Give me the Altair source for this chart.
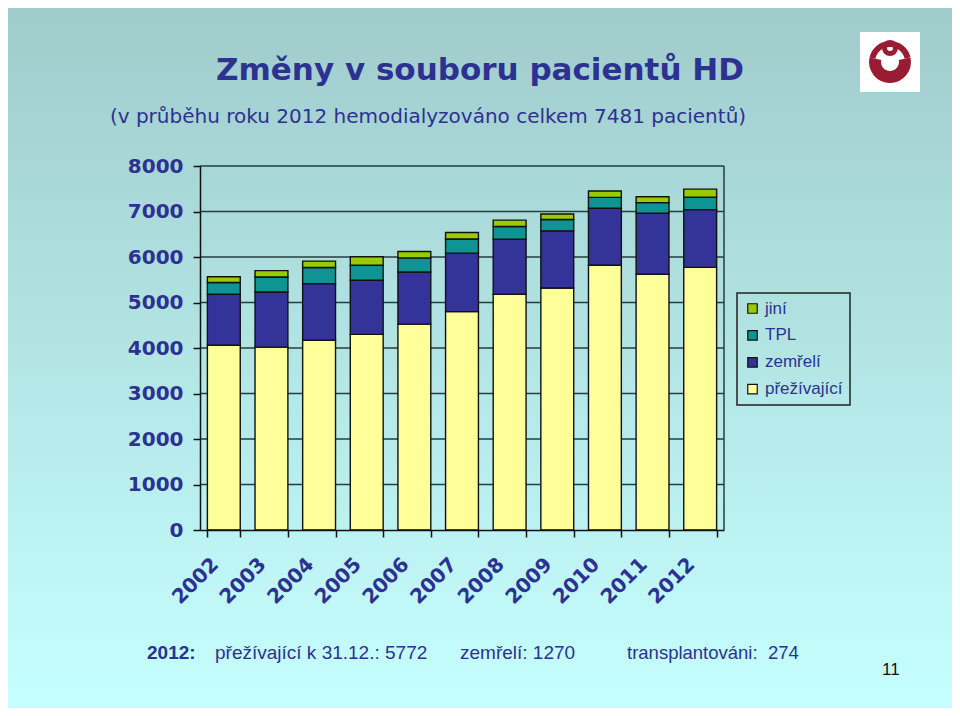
import altair as alt
import pandas as pd

# ---------------- data ----------------
years = ["2002", "2003", "2004", "2005", "2006", "2007", "2008", "2009", "2010", "2011", "2012"]
prezivajici = [4060, 4020, 4170, 4300, 4525, 4800, 5180, 5320, 5820, 5620, 5772]
zemreli = [1120, 1210, 1245, 1190, 1145, 1285, 1210, 1255, 1250, 1345, 1270]
tpl = [260, 330, 355, 330, 310, 310, 280, 250, 240, 230, 274]
jini = [125, 140, 140, 185, 140, 145, 140, 120, 140, 130, 175]

series_bottom_up = ["přežívající", "zemřelí", "TPL", "jiní"]
legend_order = ["jiní", "TPL", "zemřelí", "přežívající"]
legend_colors = ["#99cc00", "#0f9494", "#333399", "#ffff99"]
y_ticks = [0, 1000, 2000, 3000, 4000, 5000, 6000, 7000, 8000]
grid_values = [1000, 2000, 3000, 4000, 5000, 6000, 7000, 8000]

title_text = ["Změny v souboru pacientů HD"]
subtitle_text = ["(v průběhu roku 2012 hemodialyzováno celkem 7481 pacientů)"]
footer_label = ["2012:"]
footer_items = ["přežívající k 31.12.: 5772", "zemřelí: 1270", "transplantováni:\u00a0 274"]
page_number = ["11"]

# ---------------- tables ----------------
values_by_series = {
    "přežívající": prezivajici,
    "zemřelí": zemreli,
    "TPL": tpl,
    "jiní": jini,
}
rows = []
for order, s in enumerate(series_bottom_up):
    for y, v in zip(years, values_by_series[s]):
        rows.append({"year": y, "series": s, "value": v, "order": order})
df = pd.DataFrame(rows)
grid_df = pd.DataFrame({"value": grid_values})
one = pd.DataFrame({"k": [0]})

TXT = "#2d3192"

yscale = alt.Scale(domain=[0, 8000], nice=False)
yaxis = alt.Axis(
    title=None, values=y_ticks, format="d", labelFont="DejaVu Sans",
    labelFontWeight="bold", labelFontSize=20, labelColor=TXT,
    labelPadding=10, tickSize=7, tickWidth=1.5, tickColor="#111111",
    domainColor="#111111", domainWidth=1.5, grid=False, zindex=2,
)

# background gradient covering the whole page
bg = alt.Chart(one).mark_rect(
    color=alt.LinearGradient(
        gradient="linear", x1=0, y1=0, x2=0, y2=1,
        stops=[alt.GradientStop(offset=0, color="#a0cbcb"),
               alt.GradientStop(offset=1, color="#c6ffff")],
    )
).encode(x=alt.value(-192), x2=alt.value(752), y=alt.value(-158), y2=alt.value(542))

grid = alt.Chart(grid_df).mark_rule(color="#243f3f", strokeWidth=1.5).encode(
    y=alt.Y("value:Q", scale=yscale, axis=yaxis)
)

right_border = alt.Chart(one).mark_rule(color="#243f3f", strokeWidth=1.5).encode(
    x=alt.value(524), y=alt.value(0), y2=alt.value(364)
)

bars = alt.Chart(df).mark_bar(stroke="#111111", strokeWidth=1.4).encode(
    x=alt.X(
        "year:N",
        sort=years,
        scale=alt.Scale(paddingInner=0.31, paddingOuter=0.155),
        axis=alt.Axis(
            title=None, labelAngle=-45, labelAlign="right", labelBaseline="middle",
            labelPadding=24, labelOffset=-9, labelFont="DejaVu Sans",
            labelFontWeight="bold", labelFontSize=20, labelColor=TXT,
            tickBand="extent", tickSize=7, tickWidth=1.5, tickColor="#111111",
            domainColor="#111111", domainWidth=1.5, grid=False, zindex=2,
        ),
    ),
    y=alt.Y("value:Q", stack="zero", scale=yscale, axis=yaxis),
    color=alt.Color(
        "series:N",
        scale=alt.Scale(domain=legend_order, range=legend_colors),
        legend=alt.Legend(
            title=None, orient="none", legendX=537, legendY=127,
            labelFont="Liberation Sans", labelFontSize=17, labelColor=TXT,
            symbolType="square", symbolSize=90, symbolStrokeColor="#111111",
            symbolStrokeWidth=1.2, strokeColor="#222222", padding=7,
            rowPadding=8.9, labelOffset=4, symbolOpacity=1,
        ),
    ),
    order=alt.Order("order:Q"),
)

def text_layer(texts, x, y, size, weight="normal", font="DejaVu Sans",
               align="left", color=TXT):
    d = pd.DataFrame({"t": texts})
    return alt.Chart(d).mark_text(
        font=font, fontSize=size, fontWeight=weight, align=align,
        baseline="alphabetic", color=color,
    ).encode(x=alt.value(x), y=alt.value(y), text="t:N")

title = text_layer(title_text, 280, -86, 31, "bold", align="center")
subtitle = text_layer(subtitle_text, 228, -43, 20, align="center")
f_label = text_layer(footer_label, -53, 493, 19, "bold", font="Liberation Sans")
f1 = text_layer(footer_items[:1], 15, 493, 19, font="Liberation Sans")
f2 = text_layer(footer_items[1:2], 260, 493, 19, font="Liberation Sans")
f3 = text_layer(footer_items[2:3], 427, 493, 18.5, font="Liberation Sans")
pnum = text_layer(page_number, 682, 509, 17, font="Liberation Sans", color="#111111")

# logo (decorative)
logo_bg = alt.Chart(one).mark_rect(color="white").encode(
    x=alt.value(660), x2=alt.value(720), y=alt.value(-134), y2=alt.value(-74)
)
logo_ring = alt.Chart(one).mark_arc(radius=21, radius2=9, color="#9a1c32").encode(
    x=alt.value(690), y=alt.value(-104), theta=alt.value(1.35), theta2=alt.value(4.93)
)
logo_head = alt.Chart(one).mark_arc(radius=8, radius2=3, color="#9a1c32").encode(
    x=alt.value(690), y=alt.value(-118), theta=alt.value(0), theta2=alt.value(6.2832)
)
logo_arms = alt.Chart(one).mark_arc(radius=21, radius2=15, color="#9a1c32").encode(
    x=alt.value(690), y=alt.value(-104), theta=alt.value(4.93), theta2=alt.value(7.63)
)

chart = alt.layer(
    bg, grid, right_border, bars, title, subtitle, f_label, f1, f2, f3, pnum,
    logo_bg, logo_ring, logo_arms, logo_head,
).properties(
    width=524, height=364,
    autosize=alt.AutoSizeParams(type="none"),
    padding={"left": 192, "top": 158, "right": 228, "bottom": 178},
).configure_view(stroke=None).configure_legend(strokeWidth=1.5)

chart.save("out.html", embed_options={"renderer": "svg", "actions": False})
